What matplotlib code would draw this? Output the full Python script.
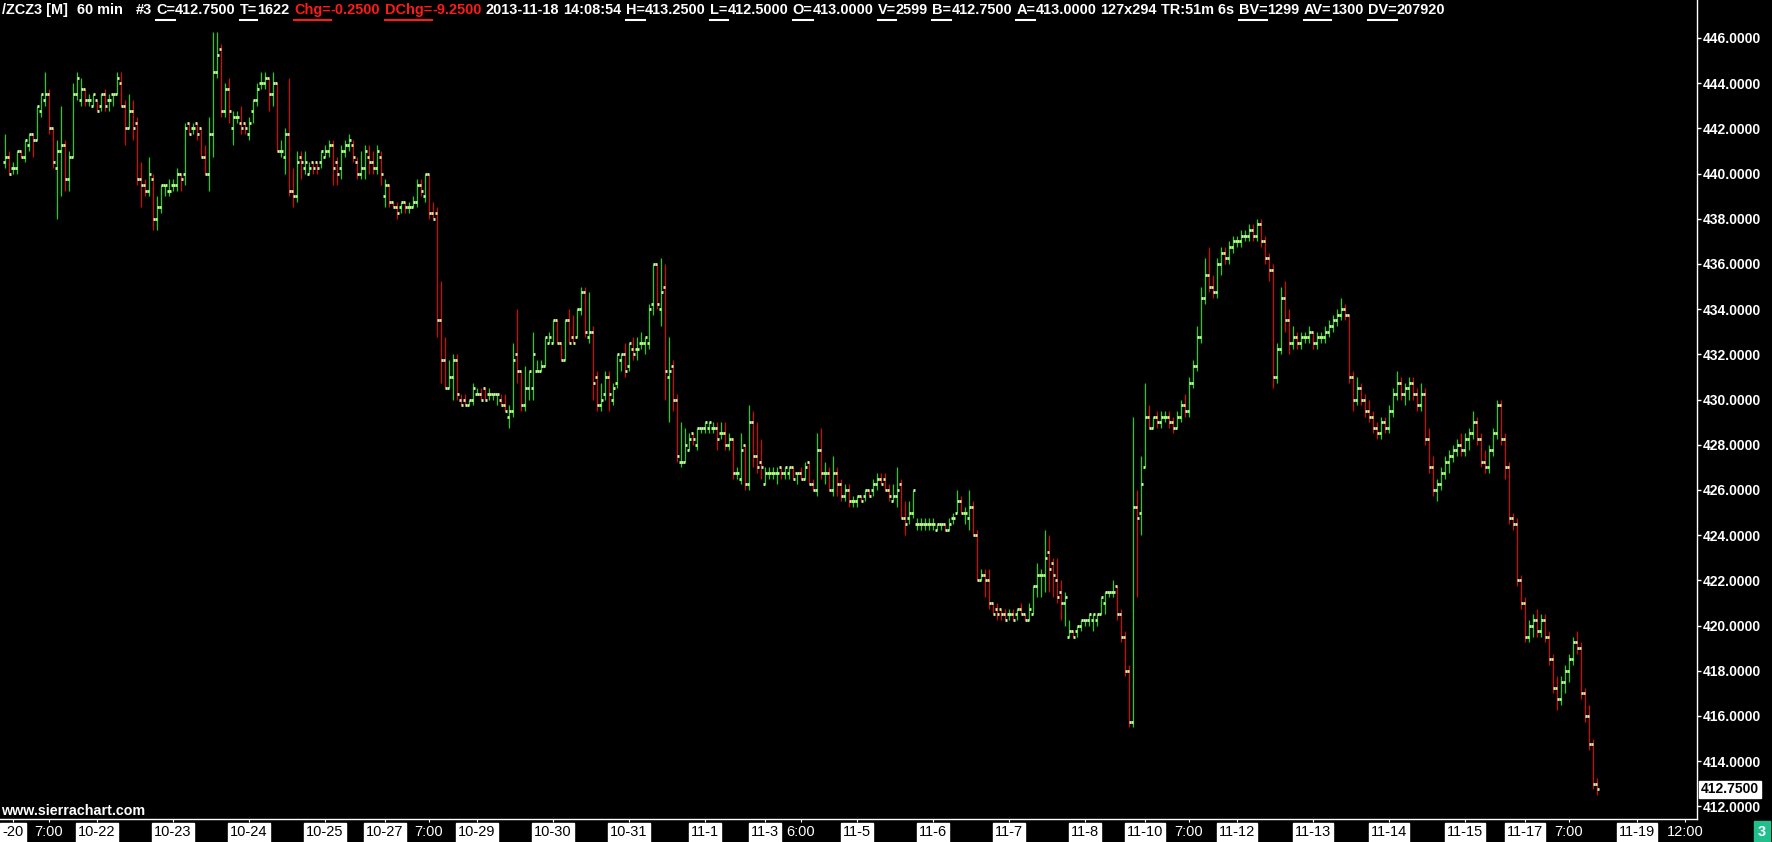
import matplotlib
matplotlib.use('Agg')
import matplotlib.pyplot as plt
from matplotlib import font_manager as fm
from matplotlib.lines import Line2D
import numpy as np

# ---------------- data (hourly OHLC, ZCZ3) ----------------
opens = [
440.5, 440.75, 440.25, 440.25, 441.0, 440.75, 441.25, 441.75, 441.5, 442.75,
443.25, 443.5, 442.0, 440.25, 441.0, 441.25, 439.75, 440.75, 443.5, 443.25,
443.75, 443.25, 443.0, 443.25, 443.0, 443.5, 443.25, 443.5, 443.5, 444.0,
443.0, 442.0, 442.75, 442.25, 439.75, 439.5, 439.25, 439.75, 438.0, 438.5,
439.5, 439.25, 439.5, 439.5, 440.0, 440.0, 442.25, 442.0, 442.25, 442.0,
440.75, 440.0, 441.75, 444.5, 445.5, 442.75, 443.75, 442.0, 442.5, 442.25,
442.25, 441.75, 442.75, 443.25, 444.0, 444.0, 444.25, 443.5, 444.0, 441.0,
440.75, 441.75, 439.25, 439.0, 440.75, 440.25, 440.0, 440.5, 440.5, 440.5,
440.75, 441.0, 441.25, 440.5, 440.25, 441.0, 441.25, 441.25, 440.5, 440.0,
440.25, 440.75, 440.5, 440.25, 440.75, 439.0, 439.5, 438.75, 438.5, 438.5,
438.75, 438.5, 438.5, 438.75, 439.5, 439.0, 440.0, 438.25, 438.25, 433.5,
431.75, 430.5, 431.0, 431.75, 430.0, 430.0, 429.75, 430.0, 430.25, 430.25,
430.5, 430.25, 430.25, 430.25, 430.0, 429.75, 429.25, 429.5, 432.0, 431.25,
429.75, 430.5, 430.5, 431.25, 431.25, 431.5, 432.5, 432.5, 433.5, 432.5,
431.75, 433.5, 432.75, 432.75, 434.0, 434.75, 432.75, 433.0, 431.0, 429.75,
430.25, 431.0, 430.0, 430.75, 431.75, 432.0, 431.5, 432.25, 432.25, 432.5,
432.5, 432.5, 434.25, 436.0, 434.0, 435.0, 431.0, 431.5, 430.0, 427.25,
427.25, 427.75, 428.5, 428.0, 428.75, 428.75, 428.75, 428.75, 428.75, 428.5,
428.5, 428.0, 428.25, 426.75, 426.5, 428.0, 426.25, 429.0, 427.5, 427.25,
426.25, 426.75, 426.75, 426.75, 427.0, 426.75, 426.75, 427.0, 426.75, 426.75,
426.5, 427.25, 426.25, 426.0, 427.75, 426.75, 426.75, 426.0, 426.75, 426.25,
425.75, 426.0, 425.5, 425.5, 425.75, 425.75, 426.0, 426.0, 426.25, 426.5,
426.5, 426.0, 425.5, 425.75, 426.25, 424.75, 424.75, 425.0, 424.5, 424.5,
424.5, 424.5, 424.5, 424.25, 424.5, 424.5, 424.25, 424.75, 425.0, 425.5,
425.0, 424.75, 425.25, 424.0, 422.0, 422.25, 422.0, 421.0, 420.75, 420.75,
420.5, 420.5, 420.5, 420.5, 420.75, 420.5, 420.25, 420.5, 421.75, 422.25,
422.25, 423.25, 422.75, 422.0, 421.5, 421.0, 419.5, 419.75, 419.75, 420.0,
420.25, 420.25, 420.25, 420.25, 420.5, 421.0, 421.5, 421.5, 421.75, 420.5,
419.5, 418.0, 415.75, 425.25, 425.0, 427.0, 429.25, 428.75, 429.25, 429.0,
429.25, 429.25, 429.0, 428.75, 429.25, 429.75, 429.5, 430.75, 431.5, 432.75,
434.5, 435.5, 435.0, 434.75, 436.0, 436.5, 436.25, 436.75, 437.0, 437.0,
437.25, 437.25, 437.5, 437.25, 437.75, 437.0, 436.25, 435.75, 431.0, 432.25,
434.5, 433.5, 432.5, 432.75, 432.5, 432.75, 432.75, 433.0, 432.5, 432.75,
432.75, 433.0, 433.25, 433.5, 433.75, 434.0, 433.75, 431.0, 430.0, 430.5,
430.0, 429.5, 429.25, 428.75, 428.5, 429.0, 428.75, 429.5, 430.25, 430.75,
430.25, 430.5, 430.75, 430.25, 429.75, 430.25, 428.25, 427.0, 426.0, 426.25,
426.75, 427.25, 427.5, 427.75, 428.0, 427.75, 428.25, 428.5, 429.0, 428.25,
427.25, 427.0, 427.75, 428.5, 429.75, 428.25, 427.0, 424.75, 424.5, 422.0,
421.0, 419.5, 420.0, 420.25, 419.75, 420.25, 419.5, 418.5, 417.25, 416.75,
417.5, 418.0, 418.5, 419.25, 419.0, 417.0, 416.0, 414.75, 413.0]

highs = [
441.75, 441.0, 440.5, 441.0, 441.0, 441.5, 441.75, 441.75, 443.0, 443.5,
444.5, 443.75, 442.0, 441.5, 443.0, 441.5, 441.0, 444.0, 444.5, 444.25,
443.75, 443.5, 443.5, 443.25, 443.5, 443.75, 443.5, 443.5, 444.5, 444.5,
443.25, 443.5, 443.25, 442.5, 440.5, 439.75, 440.75, 440.0, 439.0, 439.5,
439.5, 439.75, 439.75, 440.25, 440.0, 442.25, 442.25, 442.25, 442.25, 442.0,
441.25, 442.5, 446.25, 446.25, 445.75, 444.0, 444.25, 442.75, 442.75, 443.0,
442.25, 442.5, 443.25, 444.0, 444.5, 444.5, 444.25, 444.5, 444.0, 441.5,
442.0, 444.25, 440.25, 441.0, 441.0, 441.0, 440.5, 440.5, 440.5, 441.0,
441.25, 441.5, 441.5, 440.75, 441.25, 441.5, 441.75, 441.5, 440.75, 441.0,
441.25, 441.25, 441.0, 441.25, 441.0, 439.75, 439.5, 438.75, 438.75, 438.75,
438.75, 438.75, 439.0, 439.75, 439.75, 440.0, 440.0, 438.75, 438.5, 435.25,
432.75, 431.75, 432.0, 432.0, 430.25, 430.25, 430.0, 430.75, 430.5, 430.5,
430.5, 430.5, 430.25, 430.25, 430.25, 430.25, 429.75, 432.5, 434.0, 431.25,
431.5, 431.25, 433.0, 431.75, 431.75, 432.75, 433.0, 433.5, 433.5, 432.5,
433.5, 434.0, 433.75, 434.0, 435.0, 435.0, 434.75, 433.25, 431.25, 430.75,
431.25, 431.25, 430.75, 432.0, 432.0, 432.5, 432.5, 432.75, 432.75, 433.0,
432.75, 434.25, 436.0, 436.0, 436.25, 436.0, 432.75, 431.75, 430.25, 429.0,
428.75, 428.5, 428.5, 428.75, 428.75, 429.0, 429.0, 429.0, 429.0, 429.0,
429.0, 428.5, 428.25, 427.0, 428.5, 428.0, 429.75, 429.5, 429.0, 428.25,
427.0, 427.0, 427.0, 427.0, 427.0, 427.0, 427.0, 427.0, 426.75, 427.0,
427.25, 427.25, 426.5, 428.5, 428.75, 427.25, 427.0, 427.5, 427.0, 426.5,
426.25, 426.25, 425.75, 425.75, 425.75, 426.0, 426.0, 426.5, 426.75, 426.75,
426.75, 426.25, 426.25, 427.0, 426.5, 425.5, 425.5, 426.0, 424.75, 424.75,
424.75, 424.75, 424.75, 424.5, 424.5, 424.5, 424.75, 425.0, 426.0, 425.75,
425.25, 426.0, 425.5, 424.25, 422.5, 422.5, 422.5, 421.0, 421.0, 420.75,
420.75, 420.75, 420.75, 420.75, 421.0, 420.5, 421.0, 421.75, 422.75, 422.5,
424.25, 424.0, 423.0, 423.0, 422.0, 421.5, 420.25, 419.75, 420.0, 420.25,
420.25, 420.5, 420.5, 420.5, 421.25, 421.5, 421.5, 422.0, 421.75, 420.75,
419.75, 418.25, 429.25, 426.0, 427.5, 430.75, 429.75, 429.25, 429.5, 429.5,
429.5, 429.5, 429.25, 429.5, 430.0, 430.25, 431.0, 431.75, 433.25, 435.0,
436.25, 436.75, 435.5, 436.25, 436.75, 436.75, 437.0, 437.25, 437.25, 437.5,
437.5, 437.75, 437.75, 438.0, 438.0, 437.25, 436.5, 436.0, 432.5, 435.0,
435.25, 434.0, 433.25, 433.0, 433.0, 433.0, 433.25, 433.0, 433.0, 433.0,
433.25, 433.5, 433.75, 434.0, 434.5, 434.25, 433.75, 431.25, 431.0, 430.75,
430.25, 430.0, 429.5, 429.0, 429.25, 429.25, 429.75, 430.5, 431.25, 431.0,
430.75, 431.0, 431.0, 430.5, 430.75, 430.5, 428.75, 427.5, 426.5, 427.0,
427.5, 427.75, 428.0, 428.25, 428.5, 428.5, 428.75, 429.5, 429.25, 428.5,
427.75, 428.0, 428.75, 430.0, 430.0, 428.5, 427.25, 425.0, 424.75, 422.25,
421.25, 420.25, 420.5, 420.75, 420.5, 420.5, 419.75, 418.75, 417.75, 417.75,
418.25, 418.75, 419.5, 419.75, 419.25, 417.25, 416.5, 415.0, 413.25]

lows = [
440.25, 440.0, 440.0, 440.0, 440.75, 440.5, 441.0, 440.75, 441.5, 442.5,
443.0, 441.75, 440.25, 438.0, 439.0, 439.25, 439.25, 440.75, 443.25, 443.0,
443.0, 443.0, 443.0, 442.75, 442.75, 442.75, 442.75, 443.0, 443.5, 443.0,
441.25, 442.0, 441.5, 439.5, 438.5, 439.0, 439.0, 437.5, 437.5, 438.25,
439.0, 439.0, 439.25, 439.25, 439.25, 439.5, 441.75, 441.75, 441.5, 440.75,
440.0, 439.25, 440.75, 444.25, 442.5, 442.5, 442.25, 441.25, 442.25, 441.75,
441.75, 441.5, 442.25, 443.0, 443.75, 443.75, 442.75, 443.0, 441.0, 440.75,
440.0, 439.0, 438.5, 438.75, 439.75, 440.0, 440.0, 440.0, 440.0, 440.25,
440.75, 440.75, 439.5, 439.5, 439.75, 440.75, 441.0, 440.5, 439.75, 439.75,
439.75, 440.0, 440.0, 440.0, 439.5, 438.5, 438.5, 438.5, 438.0, 438.25,
438.25, 438.25, 438.5, 438.5, 439.0, 438.75, 438.0, 438.0, 432.75, 430.75,
430.5, 430.5, 430.0, 430.0, 429.75, 429.75, 429.75, 429.75, 430.25, 430.0,
430.0, 430.0, 430.0, 429.75, 429.75, 429.5, 428.75, 429.25, 430.75, 429.5,
429.5, 430.0, 430.0, 431.25, 431.25, 431.5, 432.5, 432.5, 432.5, 431.75,
431.75, 432.5, 432.5, 432.75, 433.75, 432.75, 432.5, 430.0, 429.5, 429.5,
430.0, 429.5, 429.75, 430.5, 431.25, 431.0, 431.25, 431.75, 431.75, 432.25,
432.0, 432.25, 433.75, 434.0, 433.25, 430.0, 429.0, 429.5, 427.25, 427.0,
427.25, 427.75, 428.0, 427.75, 428.5, 428.5, 428.5, 428.5, 427.75, 428.25,
427.75, 427.75, 426.5, 426.5, 426.25, 426.0, 426.0, 427.0, 426.75, 426.5,
426.25, 426.5, 426.5, 426.25, 426.5, 426.5, 426.5, 426.5, 426.25, 426.5,
426.5, 426.25, 426.0, 425.75, 426.5, 426.25, 426.0, 425.75, 425.75, 425.5,
425.5, 425.25, 425.25, 425.25, 425.5, 425.5, 425.75, 425.75, 426.0, 426.25,
426.0, 425.5, 425.5, 425.25, 424.75, 424.0, 424.5, 424.75, 424.25, 424.25,
424.25, 424.25, 424.25, 424.25, 424.25, 424.25, 424.25, 424.5, 425.0, 425.0,
424.5, 424.25, 424.0, 422.0, 422.0, 421.25, 420.75, 420.5, 420.25, 420.25,
420.25, 420.25, 420.25, 420.25, 420.5, 420.25, 420.25, 420.5, 421.25, 421.25,
421.5, 421.5, 421.25, 421.0, 420.25, 420.0, 419.5, 419.5, 419.5, 419.75,
420.0, 420.0, 419.75, 420.0, 420.5, 420.5, 421.25, 421.25, 420.25, 419.25,
417.75, 415.5, 415.5, 421.25, 424.0, 427.0, 428.75, 428.75, 428.75, 428.75,
429.0, 428.75, 428.5, 428.75, 429.0, 429.25, 429.25, 430.5, 431.25, 432.5,
434.25, 434.75, 434.5, 434.5, 435.5, 436.0, 436.0, 436.5, 436.75, 436.75,
437.0, 437.0, 437.0, 437.0, 436.75, 436.0, 435.25, 430.5, 430.75, 432.0,
433.0, 432.0, 432.25, 432.25, 432.25, 432.5, 432.5, 432.25, 432.25, 432.5,
432.5, 432.75, 433.0, 433.25, 433.5, 433.5, 430.75, 429.5, 429.75, 429.75,
429.25, 429.0, 428.5, 428.25, 428.25, 428.5, 428.5, 429.25, 430.0, 430.0,
429.75, 430.0, 430.0, 429.5, 429.5, 428.0, 426.75, 425.75, 425.5, 426.0,
426.5, 426.75, 427.25, 427.5, 427.5, 427.5, 427.75, 428.25, 428.0, 427.0,
426.75, 426.75, 427.5, 428.25, 428.0, 426.5, 424.5, 424.25, 421.75, 420.75,
419.25, 419.25, 419.5, 419.5, 419.5, 419.25, 418.25, 417.0, 416.25, 416.5,
417.0, 417.5, 418.25, 418.75, 416.75, 415.75, 414.5, 412.75, 412.5]

closes = [
440.75, 440.0, 440.25, 441.0, 440.75, 441.5, 441.75, 441.5, 443.0, 443.5,
443.5, 442.0, 440.5, 441.0, 441.25, 439.75, 440.75, 443.5, 444.25, 443.75,
443.25, 443.25, 443.5, 442.75, 443.5, 443.0, 443.25, 443.5, 444.25, 443.0,
442.0, 442.75, 442.0, 439.75, 439.5, 439.25, 440.0, 438.0, 438.5, 439.5,
439.5, 439.25, 439.5, 440.0, 439.75, 442.0, 441.75, 442.0, 441.75, 440.75,
440.0, 441.75, 444.5, 445.25, 442.75, 443.75, 442.75, 442.5, 442.5, 442.0,
442.0, 442.25, 443.25, 443.75, 444.0, 444.25, 443.5, 444.0, 441.0, 441.0,
441.75, 439.25, 439.0, 440.5, 440.5, 440.5, 440.25, 440.25, 440.25, 441.0,
441.0, 441.25, 440.25, 440.0, 441.0, 441.25, 441.5, 440.75, 440.0, 440.25,
441.0, 440.5, 440.25, 441.0, 440.0, 439.5, 438.75, 438.5, 438.25, 438.75,
438.5, 438.5, 438.75, 439.5, 439.25, 440.0, 438.25, 438.0, 433.5, 431.75,
430.5, 431.0, 431.75, 430.25, 429.75, 429.75, 430.0, 430.5, 430.25, 430.0,
430.0, 430.25, 430.25, 430.25, 429.75, 429.5, 429.5, 431.75, 431.25, 429.75,
430.5, 431.25, 432.0, 431.25, 431.5, 432.75, 432.75, 433.5, 432.5, 431.75,
433.5, 432.5, 432.5, 434.0, 434.75, 433.0, 433.0, 430.75, 429.75, 430.0,
431.0, 430.25, 430.5, 432.0, 432.0, 431.25, 432.5, 432.0, 432.25, 432.5,
432.75, 434.0, 436.0, 434.25, 434.75, 431.25, 431.25, 430.0, 427.5, 427.25,
428.0, 428.25, 428.25, 428.75, 428.75, 429.0, 429.0, 428.75, 428.25, 428.5,
428.0, 428.25, 426.75, 426.75, 427.75, 426.25, 429.0, 427.5, 427.0, 427.0,
426.75, 426.75, 426.75, 426.75, 426.75, 427.0, 427.0, 426.5, 426.75, 426.5,
427.0, 426.25, 426.0, 427.75, 426.75, 426.75, 426.0, 426.75, 426.25, 425.75,
426.0, 425.5, 425.5, 425.75, 425.5, 426.0, 425.75, 426.25, 426.5, 426.25,
426.0, 425.75, 425.75, 426.0, 424.75, 424.5, 425.0, 426.0, 424.5, 424.5,
424.5, 424.5, 424.5, 424.5, 424.5, 424.25, 424.5, 424.75, 425.5, 425.0,
425.0, 425.25, 424.0, 422.0, 422.25, 422.0, 421.0, 420.5, 420.5, 420.5,
420.25, 420.5, 420.25, 420.75, 420.5, 420.25, 420.75, 421.75, 422.25, 422.25,
423.0, 422.5, 422.25, 421.25, 421.0, 421.25, 419.75, 419.5, 420.0, 420.25,
420.25, 420.5, 420.5, 420.5, 421.25, 421.5, 421.5, 421.5, 420.5, 419.5,
418.0, 415.75, 425.25, 424.75, 426.25, 429.25, 428.75, 429.25, 429.0, 429.25,
429.25, 429.0, 428.75, 429.25, 429.75, 429.5, 430.75, 431.5, 432.75, 434.5,
435.5, 435.0, 434.75, 436.0, 436.5, 436.25, 436.75, 437.0, 437.0, 437.25,
437.25, 437.5, 437.25, 437.75, 437.0, 436.25, 435.75, 431.0, 432.25, 434.5,
433.5, 432.5, 432.75, 432.5, 432.75, 432.75, 433.0, 432.5, 432.75, 432.75,
433.0, 433.25, 433.5, 433.75, 434.0, 433.75, 431.0, 430.0, 430.5, 430.0,
429.5, 429.25, 428.75, 428.5, 429.0, 428.75, 429.5, 430.25, 430.75, 430.25,
430.5, 430.75, 430.25, 429.75, 430.25, 428.25, 427.0, 426.0, 426.25, 426.75,
427.25, 427.5, 427.75, 428.0, 427.75, 428.25, 428.5, 429.0, 428.25, 427.25,
427.0, 427.75, 428.5, 429.75, 428.25, 427.0, 424.75, 424.5, 422.0, 421.0,
419.5, 420.0, 420.25, 419.75, 420.25, 419.5, 418.5, 417.25, 416.75, 417.5,
418.0, 418.5, 419.25, 419.0, 417.0, 416.0, 414.75, 413.0, 412.75]

# x-axis labels (bar index, text)
xlabel_pos = [2, 11, 23, 42, 61, 80, 95, 106, 118, 137, 156, 175, 190, 199, 213,
              232, 251, 270, 285, 296, 308, 327, 346, 365, 380, 391, 408, 420]
xlabel_txt = ['-20', '7:00', '10-22', '10-23', '10-24', '10-25', '10-27', '7:00',
              '10-29', '10-30', '10-31', '11-1', '11-3', '6:00', '11-5', '11-6',
              '11-7', '11-8', '11-10', '7:00', '11-12', '11-13', '11-14', '11-15',
              '11-17', '7:00', '11-19', '12:00']
ytick_vals = list(range(412, 447, 2))
last_price = 412.75

# header pieces: (text, colour, underlined label?)
WHITE_T = 'white'
RED_T = '#ff1a1a'
header = [
    ('/ZCZ3 [M]', WHITE_T, False, 2), ('60 min', WHITE_T, False, 3), ('#3', WHITE_T, False, 1),
    ('C=', WHITE_T, True, 0), ('412.7500', WHITE_T, False, 1),
    ('T=', WHITE_T, True, 0), ('1622', WHITE_T, False, 1),
    ('Chg=', RED_T, True, 0), ('-0.2500', RED_T, False, 1),
    ('DChg=', RED_T, True, 0), ('-9.2500', RED_T, False, 1),
    ('2013-11-18', WHITE_T, False, 1), ('14:08:54', WHITE_T, False, 1),
    ('H=', WHITE_T, True, 0), ('413.2500', WHITE_T, False, 1),
    ('L=', WHITE_T, True, 0), ('412.5000', WHITE_T, False, 1),
    ('O=', WHITE_T, True, 0), ('413.0000', WHITE_T, False, 1),
    ('V=', WHITE_T, True, 0), ('2599', WHITE_T, False, 1),
    ('B=', WHITE_T, True, 0), ('412.7500', WHITE_T, False, 1),
    ('A=', WHITE_T, True, 0), ('413.0000', WHITE_T, False, 1),
    ('127x294', WHITE_T, False, 1), ('TR:51m 6s', WHITE_T, False, 1),
    ('BV=', WHITE_T, True, 0), ('1299', WHITE_T, False, 1),
    ('AV=', WHITE_T, True, 0), ('1300', WHITE_T, False, 1),
    ('DV=', WHITE_T, True, 0), ('207920', WHITE_T, False, 0),
]

# ---------------- fonts ----------------
def pick(names):
    for n in names:
        try:
            fm.findfont(fm.FontProperties(family=n), fallback_to_default=False)
            return n
        except Exception:
            pass
    return 'DejaVu Sans'

SANS = pick(['Liberation Sans', 'Arial', 'DejaVu Sans'])
NARROW = pick(['Liberation Sans Narrow', 'Liberation Sans', 'DejaVu Sans'])

W, H = 1772, 842
BG = '#000000'
GREEN = '#00e600'
RED = '#e60000'
TICKC = '#ccff99'

fig = plt.figure(figsize=(W / 100, H / 100), dpi=100, facecolor=BG)

AX_R = 1697
AX_B = 23
ax = fig.add_axes([0, AX_B / H, AX_R / W, (H - AX_B) / H], facecolor=BG)
ax.set_xlim(-1.25, 423)
ax.set_ylim(411.44, 447.68)

o = np.array(opens); h = np.array(highs); l = np.array(lows); c = np.array(closes)
x = np.arange(len(o))
cols = [GREEN if cc >= oo else RED for oo, cc in zip(o, c)]
ax.vlines(x, l, h, colors=cols, linewidth=0.85)
ax.hlines(o, x - 0.5, x - 0.12, colors=TICKC, linewidth=2.0)
ax.hlines(c, x + 0.12, x + 0.5, colors=TICKC, linewidth=2.0)

for s in ['top', 'left']:
    ax.spines[s].set_visible(False)
for s in ['right', 'bottom']:
    ax.spines[s].set_color('white')
    ax.spines[s].set_linewidth(1.0)
ax.set_xticks([])
ax.yaxis.tick_right()
ax.set_yticks(ytick_vals)
ax.set_yticklabels(['%.4f' % v for v in ytick_vals])
ax.tick_params(axis='y', colors='white', length=3, width=1, pad=1,
               labelsize=10, labelcolor='white')
for t in ax.get_yticklabels():
    t.set_fontfamily(SANS)
    t.set_fontweight('bold')

ax.annotate('%.4f' % last_price, xy=(1.0, last_price), xycoords=('axes fraction', 'data'),
            xytext=(4, 0), textcoords='offset pixels', ha='left', va='center',
            fontsize=10, fontweight='bold', family=SANS, color='black',
            bbox=dict(boxstyle='square,pad=0.12', fc='white', ec='white'),
            annotation_clip=False)

# ---------------- bottom date strip ----------------
axb = fig.add_axes([0, 0, AX_R / W, AX_B / H], facecolor=BG)
axb.set_xlim(-1.25, 423)
axb.set_ylim(0, 1)
axb.axis('off')
for xp, tx in zip(xlabel_pos, xlabel_txt):
    axb.vlines(xp, 0.86, 1.0, colors='white', linewidth=0.8)
    if ':' not in tx:
        axb.text(xp, 0.42, tx, ha='center', va='center', fontsize=10.5,
                 family=NARROW, color='black',
                 bbox=dict(boxstyle='square,pad=0.15', fc='white', ec='white'))
    else:
        axb.text(xp, 0.42, tx, ha='center', va='center', fontsize=10.5,
                 family=NARROW, color='white')

fig.text(1762 / W, 10 / H, '3', ha='center', va='center', fontsize=10.5,
         family=SANS, fontweight='bold', color='white',
         bbox=dict(boxstyle='square,pad=0.25', fc='#20c08c', ec='#20c08c'))

fig.text(1 / W, (H - 811) / H, 'www.sierrachart.com', ha='left', va='center',
         fontsize=10.3, family=SANS, fontweight='bold', color='white')

# ---------------- header (laid out piece by piece) ----------------
fig.canvas.draw()
renderer = fig.canvas.get_renderer()

def layout(fs, draw):
    xcur = 2.0
    space = 0.30 * fs * 100 / 72
    for txt, col, und, nsp in header:
        t = fig.text(xcur / W, (H - 10) / H, txt, ha='left', va='center',
                     fontsize=fs, family=SANS, fontweight='bold', color=col)
        bb = t.get_window_extent(renderer)
        if draw:
            if und:
                yy = (H - 20) / H
                fig.add_artist(Line2D([bb.x0 / W, bb.x1 / W], [yy, yy],
                                      transform=fig.transFigure, color=col,
                                      linewidth=1.5))
        else:
            t.remove()
        xcur = bb.x1 + nsp * space
    return xcur

fs0 = 10.0
end0 = layout(fs0, False)
fs = fs0 * (1445 - 2) / (end0 - 2)
layout(fs, True)

fig.savefig('out.png', dpi=100, facecolor=BG)
